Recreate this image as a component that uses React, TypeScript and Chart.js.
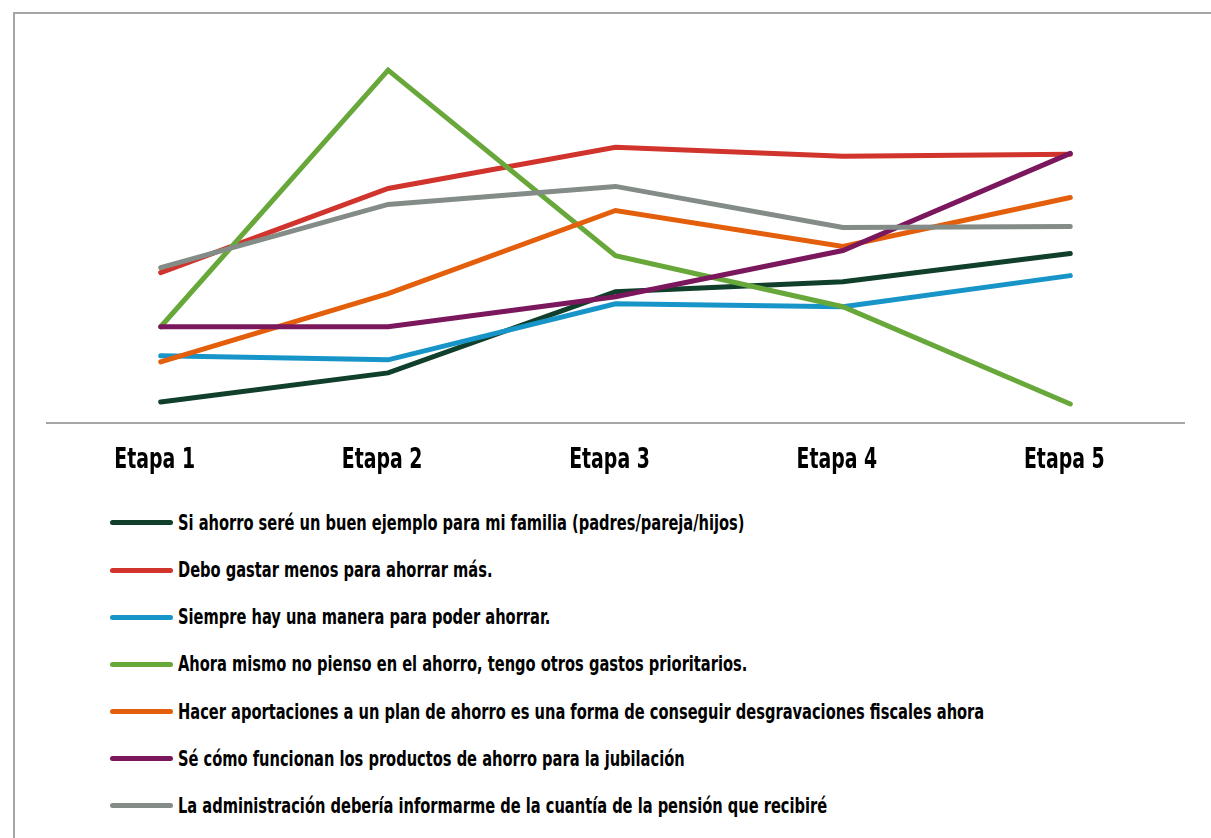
import React, { useEffect, useRef } from "react";
import { Chart, registerables } from "chart.js";

Chart.register(...registerables);

const categories = ["Etapa 1", "Etapa 2", "Etapa 3", "Etapa 4", "Etapa 5"];

const seriesNames = [
  "Si ahorro seré un buen ejemplo para mi familia (padres/pareja/hijos)",
  "Debo gastar menos para ahorrar más.",
  "Siempre hay una manera para poder ahorrar.",
  "Ahora mismo no pienso en el ahorro, tengo otros gastos prioritarios.",
  "Hacer aportaciones a un plan de ahorro es una forma de conseguir desgravaciones fiscales ahora",
  "Sé cómo funcionan los productos de ahorro para la jubilación",
  "La administración debería informarme de la cuantía de la pensión que recibiré",
];

const buenEjemplo = [2.1, 5.0, 13.1, 14.1, 16.9];
const gastarMenos = [15.0, 23.4, 27.5, 26.6, 26.8];
const siempreHay = [6.7, 6.3, 11.9, 11.6, 14.7];
const noPienso = [9.6, 35.2, 16.7, 11.6, 1.9];
const aportaciones = [6.1, 12.9, 21.2, 17.6, 22.5];
const comoFuncionan = [9.6, 9.6, 12.6, 17.2, 26.9];
const administracion = [15.5, 21.8, 23.6, 19.5, 19.6];

const seriesValues = [
  buenEjemplo,
  gastarMenos,
  siempreHay,
  noPienso,
  aportaciones,
  comoFuncionan,
  administracion,
];

const seriesColors = [
  "#103F2B",
  "#D0342C",
  "#1895C8",
  "#68A83A",
  "#E45F0B",
  "#7B175C",
  "#838C87",
];

const FONT = '"Liberation Sans Narrow", "DejaVu Sans Condensed", "Roboto Condensed", sans-serif';

// Draws the category labels of the x scale in a condensed (horizontally squeezed) face
const condensedTicks = {
  id: "condensedTicks",
  afterDraw(chart: any) {
    const xScale = chart.scales.x;
    const ctx = chart.ctx;
    const baseline = chart.chartArea.bottom + 45;
    ctx.save();
    ctx.fillStyle = "#000000";
    ctx.font = `bold 28px ${FONT}`;
    ctx.textAlign = "center";
    ctx.textBaseline = "alphabetic";
    xScale.ticks.forEach((_t: any, i: number) => {
      const x = xScale.getPixelForTick(i) - 6;
      ctx.save();
      ctx.translate(x, baseline);
      ctx.scale(0.75, 1);
      ctx.fillText(String(chart.data.labels[i]), 0, 0);
      ctx.restore();
    });
    ctx.restore();
  },
};

export default function App() {
  const canvasRef = useRef<HTMLCanvasElement | null>(null);

  useEffect(() => {
    if (!canvasRef.current) return;
    const chart = new Chart(canvasRef.current, {
      type: "line",
      data: {
        labels: categories,
        datasets: seriesNames.map((name, i) => ({
          label: name,
          data: seriesValues[i],
          borderColor: seriesColors[i],
          backgroundColor: seriesColors[i],
          borderWidth: 5,
          pointRadius: 0,
          tension: 0,
          borderCapStyle: "round" as const,
          borderJoinStyle: "miter" as const,
          order: seriesNames.length - i,
        })),
      },
      options: {
        responsive: false,
        animation: false,
        layout: { padding: { left: 32, right: 21, top: 8, bottom: 63 } },
        plugins: {
          legend: { display: false },
          tooltip: { enabled: false },
        },
        scales: {
          x: {
            offset: true,
            grid: { display: false },
            border: { display: true, color: "#A6A6A6", width: 2 },
            ticks: { display: false },
          },
          y: {
            display: false,
            min: 0,
            max: 40,
          },
        },
      },
      plugins: [condensedTicks],
    });
    return () => chart.destroy();
  }, []);

  return (
    <div
      style={{
        position: "absolute",
        left: 13,
        top: 12,
        width: 1198,
        height: 826,
        borderLeft: "2px solid #A6A6A6",
        borderTop: "2px solid #A6A6A6",
        boxSizing: "border-box",
        overflow: "hidden",
        background: "#FFFFFF",
      }}
    >
      <canvas
        ref={canvasRef}
        width={1190}
        height={480}
        style={{ position: "absolute", left: 0, top: 0, display: "block" }}
      />
      <div style={{ position: "absolute", left: 95, top: 485.4 }}>
        {seriesNames.map((name, i) => (
          <div
            key={name}
            style={{
              display: "flex",
              alignItems: "center",
              height: 47.17,
            }}
          >
            <div
              style={{
                width: 63,
                height: 5,
                borderRadius: 3,
                background: seriesColors[i],
                marginRight: 5,
                flex: "none",
              }}
            />
            <span
              style={{
                display: "inline-block",
                fontFamily: FONT,
                fontWeight: "bold",
                fontSize: 21,
                color: "#000000",
                whiteSpace: "nowrap",
                transform: "scaleX(0.775)",
                transformOrigin: "left center",
              }}
            >
              {name}
            </span>
          </div>
        ))}
      </div>
    </div>
  );
}
